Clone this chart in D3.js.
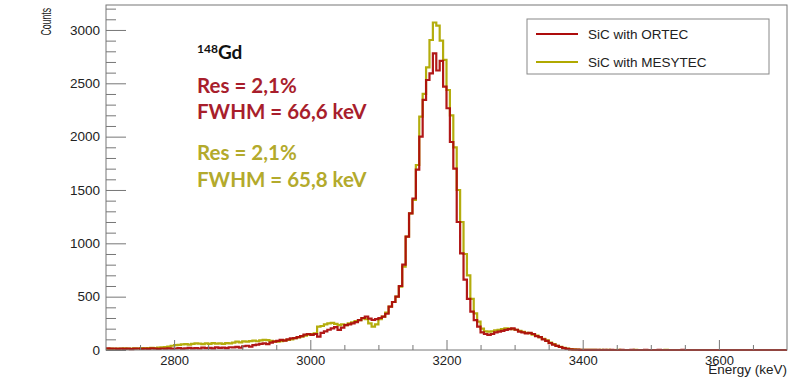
<!DOCTYPE html>
<html><head><meta charset="utf-8">
<script src="https://cdn.jsdelivr.net/npm/d3@7"></script>
<style>
html,body{margin:0;padding:0;background:#fff;}
svg{display:block;}
</style></head>
<body>
<svg id="c" width="794" height="389"></svg>
<script>
// ---- data ----
const binStart = 2700, binWidth = 5;
const ortec = [
 15,12,14,10,13,11,12,9,12,14,10,13,11,15,12,10,14,13,16,12,
 14,18,12,16,20,15,18,14,22,17,20,16,25,19,22,18,26,24,30,22,
 35,40,32,45,50,58,62,55,70,78,85,94,88,100,109,112,120,130,145,150,
 141,150,125,160,175,190,203,215,188,210,234,240,250,262,280,300,313,295,281,290,
 300,313,340,406,450,500,600,800,1063,1281,1420,1690,2000,2344,2531,2594,2780,2620,2710,2469,
 2266,1950,1700,1200,906,660,480,360,280,220,165,150,141,150,165,172,180,188,195,203,
 190,172,165,156,160,150,130,120,100,85,65,50,38,28,18,10,6,4,3,2,
 2,1,2,1,1,0,1,0,1,0,0,1,0,0,1,0,0,0,1,0,
 0,0,1,0,0,0,0,0,0,1,0,0,0,0,0,0,0,0,0,0,
 0,0,0,0,0,0,0,0,0,0,0,0,0,0,0,0,0,0,0,0
];
const mesytec = [
 10,12,11,14,12,15,13,12,16,14,18,15,17,20,18,22,25,28,32,40,
 45,48,52,55,50,58,62,60,55,62,58,65,60,62,58,65,62,70,78,72,
 80,78,84,88,82,90,94,92,85,80,78,82,90,95,100,110,118,125,135,145,
 150,156,219,225,240,250,255,245,234,240,234,250,260,270,280,297,290,250,219,240,
 290,313,350,406,450,500,594,781,1063,1281,1406,1734,2188,2400,2650,2906,3070,3040,2900,2719,
 2437,2200,1900,1500,1200,900,700,480,344,266,200,175,172,175,185,188,195,203,200,195,
 190,180,170,160,158,145,135,120,105,90,70,55,40,30,20,12,8,5,3,2,
 2,2,1,1,0,1,0,1,0,0,1,0,0,0,0,1,0,0,0,0,
 0,0,0,0,1,0,0,0,0,0,0,0,0,0,0,0,0,0,0,0,
 0,0,0,0,0,0,0,0,0,0,0,0,0,0,0,0,0,0,0,0
];
const xMajor = [2800, 3000, 3200, 3400, 3600];
const yMajor = [0, 500, 1000, 1500, 2000, 2500, 3000];
const seriesNames = ["SiC with ORTEC", "SiC with MESYTEC"];
const seriesColors = ["#ad0c0c", "#b0a900"];
const annoLines = ["Res = 2,1%", "FWHM = 66,6 keV", "Res = 2,1%", "FWHM = 65,8 keV"];
const annoColors = ["#a81e2c", "#a81e2c", "#b3aa2c", "#b3aa2c"];

// ---- layout ----
const svg = d3.select("#c");
const L = 106, R = 787, T = 5, B = 350;
const x = d3.scaleLinear().domain([2700, 3700]).range([L, R]);
const y = d3.scaleLinear().domain([0, 3234]).range([B, T]);
const font = "'Liberation Sans', Arial, Helvetica, sans-serif";

// histograms
function pts(vals) {
  const p = vals.map((v, i) => [binStart + i * binWidth, v]);
  p.push([binStart + vals.length * binWidth, vals[vals.length - 1]]);
  return p;
}
const line = d3.line().x(d => x(d[0])).y(d => y(d[1])).curve(d3.curveStepAfter);
[[mesytec, seriesColors[1]], [ortec, seriesColors[0]]].forEach(([vals, col]) => {
  svg.append("path").attr("d", line(pts(vals)))
    .attr("fill", "none").attr("stroke", col).attr("stroke-width", 2.2)
    .attr("stroke-linejoin", "miter").attr("opacity", 0.95);
});

// frame
svg.append("rect").attr("x", L).attr("y", T).attr("width", R - L).attr("height", B - T)
  .attr("fill", "none").attr("stroke", "#777").attr("stroke-width", 1);

// x axis
const xMinor = d3.range(2700, 3701, 50).filter(v => !xMajor.includes(v) && v > 2700 && v < 3700);
const gxm = svg.append("g").attr("transform", `translate(0,${B})`)
  .call(d3.axisBottom(x).tickValues(xMinor).tickFormat("").tickSizeInner(-5).tickSizeOuter(0));
const gx = svg.append("g").attr("transform", `translate(0,${B})`)
  .call(d3.axisBottom(x).tickValues(xMajor).tickFormat(d3.format("d")).tickSizeInner(-10).tickSizeOuter(0).tickPadding(5.8));
[gxm, gx].forEach(g => { g.select(".domain").remove(); g.selectAll("line").attr("stroke", "#777"); });
gx.selectAll("text").attr("font-family", font).attr("font-size", 13).attr("fill", "#222");

// y axis
const yMinor = d3.range(0, 3234, 100).filter(v => v % 500 !== 0);
const gym = svg.append("g").attr("transform", `translate(${L},0)`)
  .call(d3.axisLeft(y).tickValues(yMinor).tickFormat("").tickSizeInner(-10).tickSizeOuter(0));
const gy = svg.append("g").attr("transform", `translate(${L},0)`)
  .call(d3.axisLeft(y).tickValues(yMajor).tickFormat(d3.format("d")).tickSizeInner(-20).tickSizeOuter(0).tickPadding(6));
[gym, gy].forEach(g => { g.select(".domain").remove(); g.selectAll("line").attr("stroke", "#777"); });
gy.selectAll("text").attr("font-family", font).attr("font-size", 13.5).attr("fill", "#222");

// axis titles
svg.append("text").attr("x", R).attr("y", 374).attr("text-anchor", "end")
  .attr("font-family", font).attr("font-size", 13.5).attr("fill", "#222").text("Energy (keV)");
svg.append("text").attr("transform", "translate(51,8) rotate(-90) scale(0.62,1)").attr("text-anchor", "end")
  .attr("font-family", font).attr("font-size", 14).attr("fill", "#222").text("Counts");

// legend
const lg = svg.append("g");
lg.append("rect").attr("x", 527).attr("y", 19).attr("width", 242).attr("height", 55)
  .attr("fill", "#fff").attr("stroke", "#888").attr("stroke-width", 1);
seriesNames.forEach((n, i) => {
  const yy = 34 + i * 28;
  lg.append("line").attr("x1", 536).attr("x2", 578).attr("y1", yy).attr("y2", yy)
    .attr("stroke", seriesColors[i]).attr("stroke-width", 1.8);
  lg.append("text").attr("x", 588).attr("y", yy + 5).attr("font-family", font)
    .attr("font-size", 13.5).attr("fill", "#222").text(n);
});

// annotations
const afont = "Lato, 'Open Sans', sans-serif";
const gd = svg.append("text").attr("x", 197).attr("y", 59).attr("font-family", afont)
  .attr("font-weight", "bold").attr("fill", "#111");
gd.append("tspan").attr("font-size", 12).attr("dy", -6).text("148");
gd.append("tspan").attr("font-size", 19).attr("dy", 6).text("Gd");
const annoY = [93, 119, 160, 187];
annoLines.forEach((t, i) => {
  svg.append("text").attr("x", 197).attr("y", annoY[i]).attr("font-family", afont)
    .attr("font-weight", "bold").attr("font-size", 20.5).attr("fill", annoColors[i]).text(t);
});
</script>
</body></html>
